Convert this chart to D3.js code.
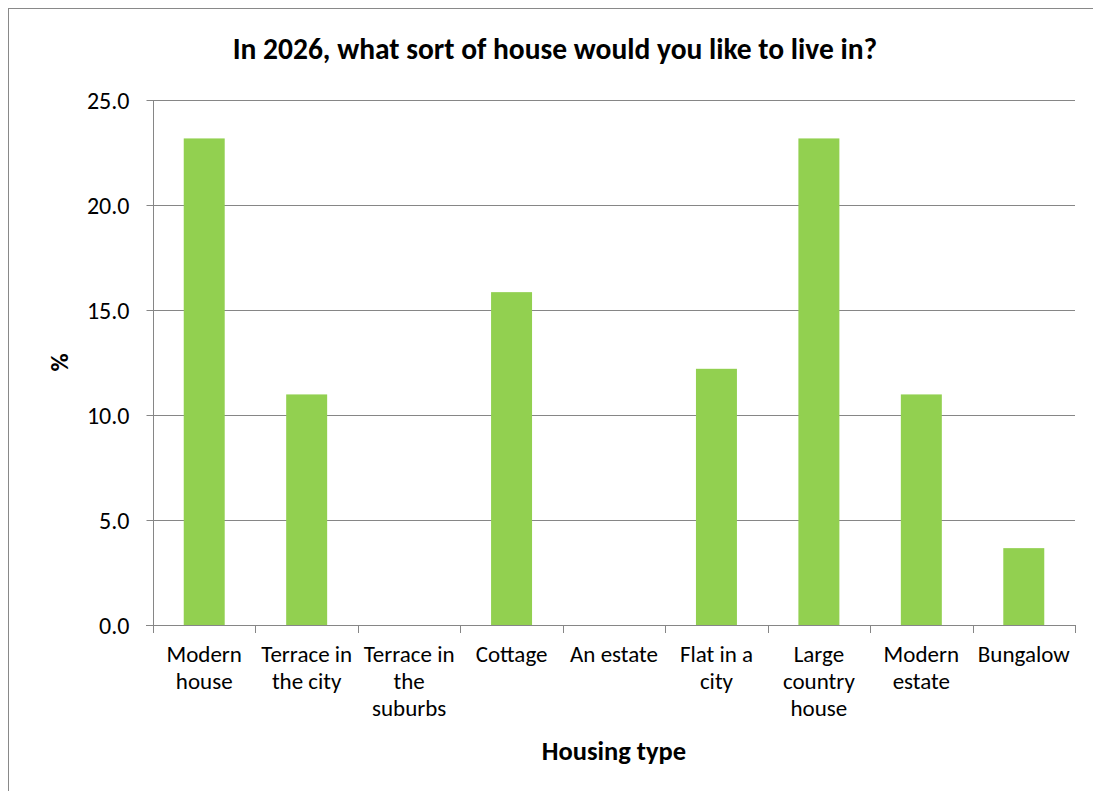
<!DOCTYPE html>
<html>
<head>
<meta charset="utf-8">
<script src="https://cdn.jsdelivr.net/npm/d3@7"></script>
<style>
  html, body { margin: 0; padding: 0; background: #fff; }
  svg { display: block; font-family: Calibri, Carlito, Lato, "Liberation Sans", sans-serif; }
</style>
</head>
<body>
<svg id="chart" width="1093" height="791"></svg>
<script>
// Survey responses: share of respondents (%) choosing each housing type
const categories = [
  "Modern\nhouse",
  "Terrace in\nthe city",
  "Terrace in\nthe\nsuburbs",
  "Cottage",
  "An estate",
  "Flat in a\ncity",
  "Large\ncountry\nhouse",
  "Modern\nestate",
  "Bungalow"
];
const percentages = [23.17, 10.98, 0, 15.85, 0, 12.20, 23.17, 10.98, 3.66];
const yTicks = [0, 5, 10, 15, 20, 25];

const titleText = "In 2026, what sort of house would you like to live in?";
const xTitle = "Housing type";
const yTitle = "%";

const svg = d3.select("#chart");
const W = 1093, H = 791;
const plot = { left: 153, right: 1075, top: 100, bottom: 625 };
const gridColor = "#868686";
const labelSize = 23;

// outer chart frame (continues past the right and bottom edges)
svg.append("rect")
  .attr("x", 8.5).attr("y", 8.5)
  .attr("width", W + 20).attr("height", H + 20)
  .attr("fill", "#fff").attr("stroke", "#898989").attr("stroke-width", 1);

const x = d3.scaleBand()
  .domain(categories)
  .range([plot.left, plot.right])
  .paddingInner(0.6)
  .paddingOuter(0.3);

const y = d3.scaleLinear()
  .domain([0, 25])
  .range([plot.bottom, plot.top]);

// horizontal gridlines
svg.append("g")
  .selectAll("line")
  .data(yTicks.filter(t => t > 0))
  .join("line")
  .attr("x1", plot.left).attr("x2", plot.right)
  .attr("y1", d => Math.round(y(d)) + 0.5).attr("y2", d => Math.round(y(d)) + 0.5)
  .attr("stroke", gridColor).attr("stroke-width", 1);

// bars
svg.append("g")
  .selectAll("rect")
  .data(percentages.map((v, i) => ({ cat: categories[i], v })))
  .join("rect")
  .attr("x", d => x(d.cat))
  .attr("y", d => y(d.v))
  .attr("width", x.bandwidth())
  .attr("height", d => y(0) - y(d.v))
  .attr("fill", "#92D050");

// y axis
const yAxis = d3.axisLeft(y)
  .tickValues(yTicks)
  .tickFormat(d3.format(".1f"))
  .tickSize(7)
  .tickPadding(7);
const gy = svg.append("g")
  .attr("transform", `translate(${plot.left + 0.5},0)`)
  .call(yAxis)
  .attr("font-family", null)
  .attr("font-size", null);
gy.select(".domain").attr("stroke", gridColor).attr("d", `M0,${plot.top}V${plot.bottom}`);
gy.selectAll(".tick line").attr("stroke", gridColor);
gy.selectAll(".tick text")
  .attr("fill", "#000")
  .attr("font-size", 24)
  .attr("dy", "0.35em")
  .attr("x", -24);
gy.selectAll(".tick").attr("transform", d => `translate(0,${Math.round(y(d)) + 0.5})`);

// x axis: baseline with tick marks at category boundaries
const boundaries = d3.range(categories.length + 1).map(i => plot.left + i * (plot.right - plot.left) / categories.length);
const gx = svg.append("g");
gx.append("line")
  .attr("x1", plot.left - 7).attr("x2", plot.right)
  .attr("y1", plot.bottom + 0.5).attr("y2", plot.bottom + 0.5)
  .attr("stroke", gridColor).attr("stroke-width", 1);
gx.selectAll("line.tick")
  .data(boundaries)
  .join("line")
  .attr("class", "tick")
  .attr("x1", d => Math.round(d) + 0.5).attr("x2", d => Math.round(d) + 0.5)
  .attr("y1", plot.bottom).attr("y2", plot.bottom + 8)
  .attr("stroke", gridColor).attr("stroke-width", 1);

// category labels (multi-line)
const labels = gx.selectAll("text.cat")
  .data(categories)
  .join("text")
  .attr("class", "cat")
  .attr("text-anchor", "middle")
  .attr("font-size", labelSize)
  .attr("fill", "#000")
  .attr("transform", d => `translate(${x(d) + x.bandwidth() / 2},${plot.bottom + 37})`);
labels.each(function(d) {
  const t = d3.select(this);
  d.split("\n").forEach((line, i) => {
    t.append("tspan").attr("x", 0).attr("y", i * 27).text(line);
  });
});

// titles
svg.append("text")
  .attr("x", 555).attr("y", 59)
  .attr("text-anchor", "middle")
  .attr("font-size", 29.5).attr("font-weight", "bold")
  .attr("fill", "#000")
  .text(titleText);

svg.append("text")
  .attr("x", 614).attr("y", 760)
  .attr("text-anchor", "middle")
  .attr("font-size", 26.5).attr("font-weight", "bold")
  .attr("fill", "#000")
  .text(xTitle);

svg.append("text")
  .attr("transform", `translate(68,${(plot.top + plot.bottom) / 2}) rotate(-90)`)
  .attr("text-anchor", "middle")
  .attr("font-size", 25).attr("font-weight", "bold")
  .attr("fill", "#000")
  .text(yTitle);
</script>
</body>
</html>
